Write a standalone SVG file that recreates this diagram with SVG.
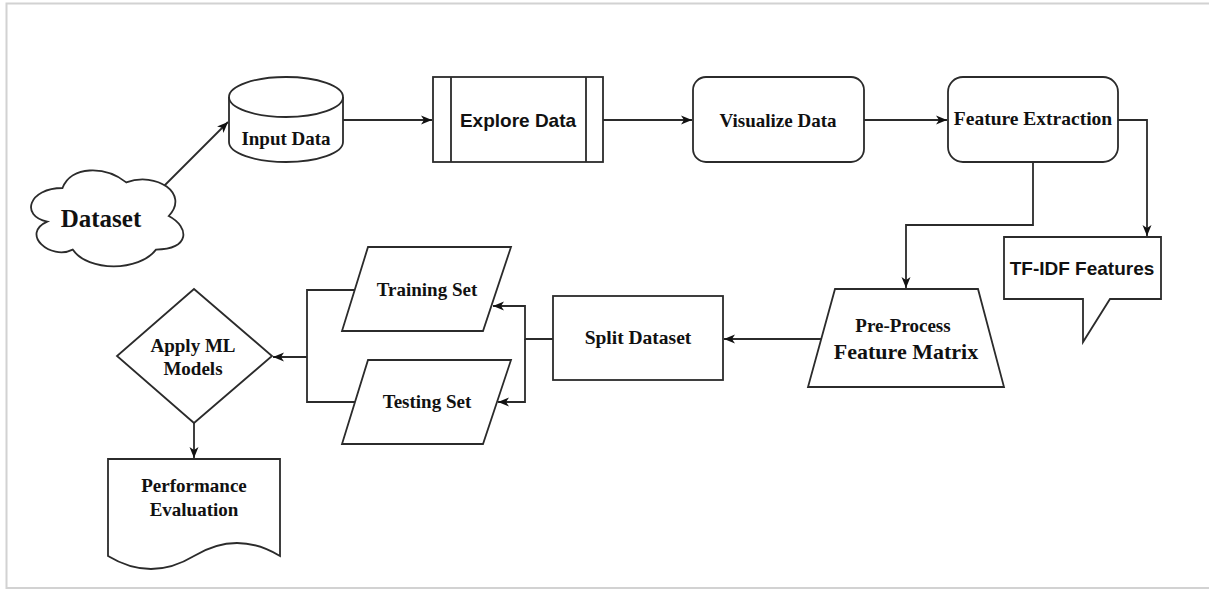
<svg xmlns="http://www.w3.org/2000/svg" width="1209" height="590" viewBox="0 0 1209 590">
<style>
.s{fill:#fff;stroke:#2b2b2b;stroke-width:1.8}
.c{fill:none;stroke:#2b2b2b;stroke-width:1.8}
.t{font-family:"Liberation Serif","Times New Roman",serif;font-weight:bold;font-size:19px;fill:#111;text-anchor:middle}
.a{font-family:"Liberation Sans",Arial,sans-serif;font-weight:bold;font-size:19px;fill:#111;text-anchor:middle}
</style>
<defs>
<marker id="ar" markerUnits="userSpaceOnUse" markerWidth="12" markerHeight="10" viewBox="0 0 12 10" refX="11" refY="5" orient="auto">
<path d="M0,0.5 L11,5 L0,9.5 L3,5 Z" fill="#111"/>
</marker>
</defs>
<rect x="0" y="0" width="1209" height="590" fill="#fff"/>
<rect x="6.5" y="3.5" width="1210" height="584.5" fill="none" stroke="#d2d2d2" stroke-width="2"/>

<g id="connectors" class="c">
<path class="c" d="M162,188 L228,122" marker-end="url(#ar)"/>
<path class="c" d="M343,120 H432" marker-end="url(#ar)"/>
<path class="c" d="M603,120 H692" marker-end="url(#ar)"/>
<path class="c" d="M864,120 H947" marker-end="url(#ar)"/>
<path class="c" d="M1118,120 H1147 V236" marker-end="url(#ar)"/>
<path class="c" d="M1033,162 V225 H906 V288" marker-end="url(#ar)"/>
<path class="c" d="M822,339 H724" marker-end="url(#ar)"/>
<path class="c" d="M553,339 H525 V306 H493" marker-end="url(#ar)"/>
<path class="c" d="M525,339 V402 H498" marker-end="url(#ar)"/>
<path class="c" d="M355,290 H307 V402 H355"/>
<path class="c" d="M307,357 H273" marker-end="url(#ar)"/>
<path class="c" d="M194,423 V458" marker-end="url(#ar)"/>
</g>

<g id="dataset">
<path class="s" d="M62.5,188 C28.5,188 20,216 47.2,221.6 C20,233.9 50.6,260.8 72.7,249.6 C88,272 139,272 156,249.6 C190,249.6 190,227.2 168.75,216 C190,193.6 156,171.2 126.25,182.4 C105,165.6 71,165.6 62.5,188 Z"/>
<text class="t" x="101" y="227" style="font-size:25px">Dataset</text>
</g>

<g id="input-data">
<path class="s" d="M229,97 A57,20 0 0 1 343,97 V142 A57,20 0 0 1 229,142 Z"/>
<path class="c" d="M229,97 A57,20 0 0 0 343,97"/>
<text class="t" x="286" y="145">Input Data</text>
</g>

<g id="explore-data">
<rect class="s" x="433" y="77" width="170" height="85"/>
<path class="c" d="M451,77 V162 M586,77 V162"/>
<text class="a" x="518" y="127">Explore Data</text>
</g>

<g id="visualize-data">
<rect class="s" x="693" y="77" width="171" height="85" rx="13"/>
<text class="t" x="778" y="127">Visualize Data</text>
</g>

<g id="feature-extraction">
<rect class="s" x="948" y="77" width="170" height="85" rx="15"/>
<text class="t" x="1033" y="125" style="font-size:19.5px">Feature Extraction</text>
</g>

<g id="tfidf-features">
<path class="s" d="M1004,237 H1161 V299 H1110 L1083,342 V299 H1004 Z"/>
<text class="a" x="1082" y="275">TF-IDF Features</text>
</g>

<g id="pre-process">
<path class="s" d="M835,289 H978 L1004,387 H808 Z"/>
<text class="t" x="903" y="332">Pre-Process</text>
<text class="t" x="906" y="359" style="font-size:22px">Feature Matrix</text>
</g>

<g id="split-dataset">
<rect class="s" x="553" y="296" width="170" height="84"/>
<text class="t" x="638" y="344" style="font-size:19.5px">Split Dataset</text>
</g>

<g id="training-set">
<path class="s" d="M368,247 H511 L483,331 H342 Z"/>
<text class="t" x="427" y="296">Training Set</text>
</g>

<g id="testing-set">
<path class="s" d="M368,360 H511 L483,444 H342 Z"/>
<text class="t" x="427" y="408">Testing Set</text>
</g>

<g id="apply-ml">
<path class="s" d="M194,289 L272,356 L194,423 L117,356 Z"/>
<text class="t" x="193" y="352">Apply ML</text>
<text class="t" x="193" y="375">Models</text>
</g>

<g id="performance-evaluation">
<path class="s" d="M108,459 H280 V556 Q237,530 194,556 Q151,582 108,556 Z"/>
<text class="t" x="194" y="492">Performance</text>
<text class="t" x="194" y="516">Evaluation</text>
</g>
</svg>
